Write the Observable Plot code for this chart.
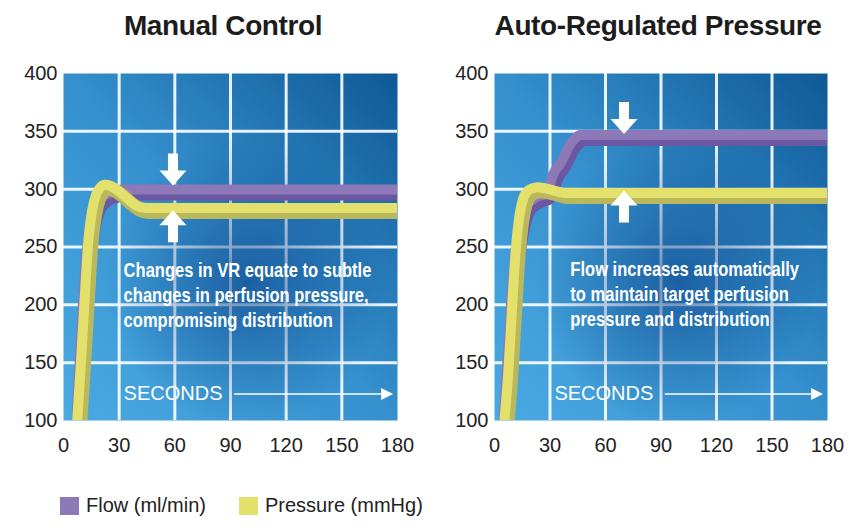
<!DOCTYPE html>
<html>
<head>
<meta charset="utf-8">
<script src="https://cdn.jsdelivr.net/npm/d3@7"></script>
<script src="https://cdn.jsdelivr.net/npm/@observablehq/plot@0.6"></script>
<style>
  body { margin: 0; background: #fff; }
  #wrap { position: relative; width: 849px; height: 528px; overflow: hidden; background: #fff;
          font-family: "Liberation Sans", Arial, Helvetica, sans-serif; color: #222; }
  .title { position: absolute; top: 10px; width: 400px; text-align: center; font-weight: bold;
           font-size: 28px; line-height: 32px; letter-spacing: -0.4px; color: #1c1c1c; }
  .panel { position: absolute; top: 45px; }
  .legend { position: absolute; top: 496px; height: 19px; display: flex; align-items: center; font-size: 20px; color: #222; }
  .legend .sw { width: 19px; height: 18px; margin-right: 7px; }
</style>
</head>
<body>
<div id="wrap"></div>
<script>
// ---------- data ----------
const titles = ["Manual Control", "Auto-Regulated Pressure"];
const xTicks = [0, 30, 60, 90, 120, 150, 180];
const yTicks = [100, 150, 200, 250, 300, 350, 400];
const gridX = [30, 60, 90, 120, 150];
const gridY = [150, 200, 250, 300, 350];

// Manual Control
const manualFlowT     = [7.6, 9.6, 11.6, 13.6, 15.6, 17.6, 20.5, 24, 28, 32, 180];
const manualFlow      = [100, 160, 215, 252, 272, 283, 290, 294, 296, 298, 298];
const manualPressureT = [8, 10, 12, 14, 16, 18, 20, 23, 26, 30, 35, 40, 45, 50, 180];
const manualPressure  = [100, 150, 205, 255, 280, 293, 299, 302, 301, 297, 290, 284, 282, 282, 282];

// Auto-Regulated Pressure
const autoFlowT     = [5.5, 7.5, 9.5, 11.5, 13.5, 15.5, 18, 21, 24, 28, 30, 32, 34, 36, 38, 41, 44, 47, 52, 180];
const autoFlow      = [100, 150, 200, 240, 262, 276, 285, 289, 292, 294, 300, 310, 316, 320, 326, 336, 342, 345, 345, 345];
const autoPressureT = [6, 8, 10, 12, 14, 16, 18, 21, 24, 28, 33, 38, 45, 180];
const autoPressure  = [100, 140, 195, 245, 275, 290, 296, 299, 300, 299, 297, 295, 295, 295];

const notes = [
  "Changes in VR equate to subtle\nchanges in perfusion pressure,\ncompromising distribution",
  "Flow increases automatically\nto maintain target perfusion\npressure and distribution"
];
const noteX = [32.4, 41];
const noteY = [239, 240];
const secondsLabel = "SECONDS";
const secondsX = 32.4;
const secondsY = 123;
const secondsArrowX1 = 92;
const secondsArrowX2 = 174.4;
const markerX = [59, 70];
const markerDownY = [317, 361.5];
const markerUpY = [268, 285];
const legendLabels = ["Flow (ml/min)", "Pressure (mmHg)"];

// ---------- styles ----------
const flowLight = "#8d78b8", flowDark = "#6b57a2";
const presLight = "#e3e16b", presDark = "#b9b85c";
const fontMain = "'Liberation Sans', Arial, Helvetica, sans-serif";
const noteWidth = [248, 229]; // rendered width of the longest note line (condensed look)

function polySymbol(pts, unit) {
  return {
    draw(ctx, size) {
      const k = Math.sqrt(size / Math.PI) / unit;
      ctx.moveTo(pts[0][0] * k, pts[0][1] * k);
      for (let i = 1; i < pts.length; i++) ctx.lineTo(pts[i][0] * k, pts[i][1] * k);
      ctx.closePath();
    }
  };
}
const downArrow = polySymbol([[-5,-16],[5,-16],[5,1],[13.5,1],[0,16],[-13.5,1],[-5,1]], 16);
const upArrow = polySymbol([[-5,16],[5,16],[5,-1],[13.5,-1],[0,-16],[-13.5,-1],[-5,-1]], 16);
const triRight = polySymbol([[-6,-6],[6,0],[-6,6]], 6);

function series(ts, vs) { return ts.map((t, i) => ({t, v: vs[i]})); }

function band(data, light, dark) {
  return [
    Plot.line(data, {x: "t", y: "v", stroke: dark, strokeWidth: 14, dx: 2, dy: 2, curve: "monotone-x", clip: true, strokeLinejoin: "round"}),
    Plot.line(data, {x: "t", y: "v", stroke: light, strokeWidth: 10, dx: -1, dy: -2, curve: "monotone-x", clip: true, strokeLinejoin: "round"})
  ];
}

function makePanel(i, flow, pres, width, ml, mr) {
  const id = "p" + i;
  const plot = Plot.plot({
    width, height: 420,
    marginLeft: ml, marginRight: mr, marginTop: 28, marginBottom: 45,
    style: {fontSize: "20px", fontFamily: fontMain, color: "#222", background: "transparent", overflow: "visible"},
    x: {domain: [0, 180], ticks: xTicks, tickSize: 0, tickPadding: 17, label: null},
    y: {domain: [100, 400], ticks: yTicks, tickSize: 0, tickPadding: 6, label: null},
    marks: [
      Plot.frame({fill: `url(#bg${id})`, stroke: "none"}),
      Plot.ruleX(gridX, {stroke: "white", strokeWidth: 3, strokeOpacity: 0.9}),
      Plot.ruleY(gridY, {stroke: "white", strokeWidth: 3, strokeOpacity: 0.9}),
      Plot.frame({fill: `url(#blob${id})`, stroke: "none"}),
      ...band(flow, flowLight, flowDark),
      ...band(pres, presLight, presDark),
      Plot.dot([{x: markerX[i], y: markerDownY[i]}], {x: "x", y: "y", symbol: downArrow, r: 16, fill: "white", stroke: "none"}),
      Plot.dot([{x: markerX[i], y: markerUpY[i]}], {x: "x", y: "y", symbol: upArrow, r: 16, fill: "white", stroke: "none"}),
      Plot.text([{x: noteX[i], y: noteY[i], text: notes[i]}], {
        x: "x", y: "y", text: "text", textAnchor: "start", lineAnchor: "top", lineHeight: 1.28,
        fill: "white", fontSize: 19.5, fontWeight: "bold", fontFamily: fontMain, className: "note"
      }),
      Plot.text([{x: secondsX, y: secondsY, text: secondsLabel}], {
        x: "x", y: "y", text: "text", textAnchor: "start", lineAnchor: "middle",
        fill: "white", fontSize: 20, fontFamily: fontMain
      }),
      Plot.link([{x1: secondsArrowX1, x2: secondsArrowX2, y: secondsY}], {x1: "x1", x2: "x2", y1: "y", y2: "y", stroke: "white", strokeWidth: 1.5}),
      Plot.dot([{x: secondsArrowX2, y: secondsY}], {x: "x", y: "y", symbol: triRight, r: 6, fill: "white", stroke: "none"})
    ]
  });
  const svg = d3.select(plot);
  const defs = svg.insert("defs", ":first-child");
  const lg = defs.append("linearGradient").attr("id", "bg" + id)
    .attr("x1", 0).attr("y1", 1).attr("x2", 1).attr("y2", 0);
  lg.append("stop").attr("offset", 0).attr("stop-color", "#4aaae2");
  lg.append("stop").attr("offset", 0.5).attr("stop-color", "#3590cd");
  lg.append("stop").attr("offset", 1).attr("stop-color", "#0f5896");
  const rg = defs.append("radialGradient").attr("id", "blob" + id)
    .attr("cx", 0.55).attr("cy", 0.6).attr("r", 0.42);
  rg.append("stop").attr("offset", 0).attr("stop-color", "#0a3f85").attr("stop-opacity", 0.6);
  rg.append("stop").attr("offset", 1).attr("stop-color", "#0a3f85").attr("stop-opacity", 0);
  return plot;
}

function condenseNotes(plot, target) {
  d3.select(plot).selectAll(".note text").each(function () {
    const w = this.getBBox().width;
    if (w > 0) {
      const s = target / w;
      const t = this.getAttribute("transform") || "";
      this.setAttribute("transform", t + ` scale(${s},1)`);
    }
  });
}

const wrap = document.getElementById("wrap");

const left = makePanel(0, series(manualFlowT, manualFlow), series(manualPressureT, manualPressure), 425, 63, 28);
left.classList.add("panel"); left.style.left = "0px";
wrap.appendChild(left);
condenseNotes(left, noteWidth[0]);

const right = makePanel(1, series(autoFlowT, autoFlow), series(autoPressureT, autoPressure), 419, 64, 22);
right.classList.add("panel"); right.style.left = "430px";
wrap.appendChild(right);
condenseNotes(right, noteWidth[1]);

const titleCenters = [223, 658];
titles.forEach((t, i) => {
  const d = document.createElement("div");
  d.className = "title";
  d.textContent = t;
  d.style.left = (titleCenters[i] - 200) + "px";
  wrap.appendChild(d);
});

const legendLeft = [60, 239];
const legendColors = [flowLight, presLight];
legendLabels.forEach((lab, i) => {
  const d = document.createElement("div");
  d.className = "legend";
  d.style.left = legendLeft[i] + "px";
  const sw = document.createElement("span");
  sw.className = "sw";
  sw.style.background = legendColors[i];
  const tx = document.createElement("span");
  tx.textContent = lab;
  d.appendChild(sw); d.appendChild(tx);
  wrap.appendChild(d);
});
</script>
</body>
</html>
